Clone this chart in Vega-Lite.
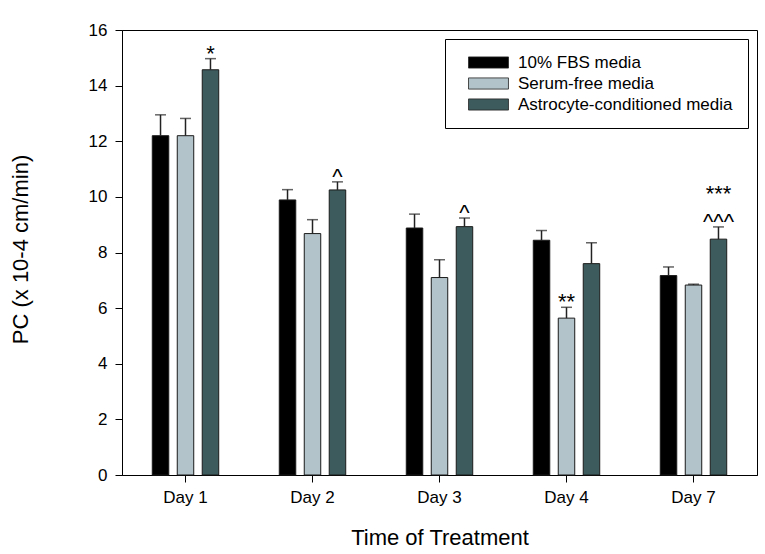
{
  "$schema": "https://vega.github.io/schema/vega-lite/v6.json",
  "width": 635,
  "height": 445,
  "autosize": {"type": "none"},
  "padding": {"left": 122, "top": 30, "right": 8, "bottom": 79},
  "background": "white",
  "config": {
    "font": "Liberation Sans",
    "view": {"stroke": "#000", "strokeWidth": 1},
    "axis": {
      "domainColor": "#000", "domainWidth": 1, "tickColor": "#000", "tickSize": 7, "tickWidth": 1,
      "labelColor": "#000", "labelFontSize": 17, "titleColor": "#000", "titleFontSize": 22, "titleFontWeight": "normal", "grid": false
    },
    "legend": {
      "orient": "none", "legendX": 323, "legendY": 9, "padding": 15, "strokeColor": "#000", "strokeWidth": 1,
      "fillColor": "white", "symbolType": "M-3.33,-0.93H3.33V0.93H-3.33Z", "symbolSize": 144, "symbolStrokeColor": "#222",
      "symbolStrokeWidth": 0.8, "symbolOpacity": 1, "labelFontSize": 17, "labelColor": "#000", "labelOffset": 21,
      "labelLimit": 400, "symbolOffset": 20, "rowPadding": 3, "title": null
    }
  },
  "data": {
    "values": [
      {"day": "Day 1", "media": "10% FBS media", "value": 12.2, "err": 12.95, "note": null, "note2": null},
      {"day": "Day 1", "media": "Serum-free media", "value": 12.2, "err": 12.82, "note": null, "note2": null},
      {"day": "Day 1", "media": "Astrocyte-conditioned media", "value": 14.57, "err": 14.97, "note": "*", "note2": null},
      {"day": "Day 2", "media": "10% FBS media", "value": 9.89, "err": 10.26, "note": null, "note2": null},
      {"day": "Day 2", "media": "Serum-free media", "value": 8.68, "err": 9.18, "note": null, "note2": null},
      {"day": "Day 2", "media": "Astrocyte-conditioned media", "value": 10.25, "err": 10.54, "note": "^", "note2": null},
      {"day": "Day 3", "media": "10% FBS media", "value": 8.88, "err": 9.38, "note": null, "note2": null},
      {"day": "Day 3", "media": "Serum-free media", "value": 7.1, "err": 7.74, "note": null, "note2": null},
      {"day": "Day 3", "media": "Astrocyte-conditioned media", "value": 8.93, "err": 9.24, "note": "^", "note2": null},
      {"day": "Day 4", "media": "10% FBS media", "value": 8.44, "err": 8.79, "note": null, "note2": null},
      {"day": "Day 4", "media": "Serum-free media", "value": 5.64, "err": 6.03, "note": "**", "note2": null},
      {"day": "Day 4", "media": "Astrocyte-conditioned media", "value": 7.6, "err": 8.35, "note": null, "note2": null},
      {"day": "Day 7", "media": "10% FBS media", "value": 7.17, "err": 7.48, "note": null, "note2": null},
      {"day": "Day 7", "media": "Serum-free media", "value": 6.83, "err": 6.86, "note": null, "note2": null},
      {"day": "Day 7", "media": "Astrocyte-conditioned media", "value": 8.48, "err": 8.92, "note": "^^^", "note2": "***"}
    ]
  },
  "encoding": {
    "x": {
      "field": "day", "type": "nominal", "sort": ["Day 1", "Day 2", "Day 3", "Day 4", "Day 7"],
      "scale": {"paddingInner": 0.41, "paddingOuter": 0.205},
      "axis": {"labelAngle": 0, "labelPadding": 7, "title": "Time of Treatment", "titleY": 69, "titleBaseline": "alphabetic", "titleAnchor": "middle"}
    },
    "xOffset": {
      "field": "media", "type": "nominal",
      "sort": ["10% FBS media", "Serum-free media", "Astrocyte-conditioned media"],
      "scale": {"paddingInner": 0.34, "paddingOuter": 0.17}
    }
  },
  "layer": [
    {
      "mark": {"type": "bar", "stroke": "#1a1a1a", "strokeWidth": 1},
      "encoding": {
        "y": {
          "field": "value", "type": "quantitative", "scale": {"domain": [0, 16], "nice": false, "zero": true},
          "axis": {"values": [0, 2, 4, 6, 8, 10, 12, 14, 16], "labelPadding": 8, "title": "PC (x 10-4 cm/min)",
                   "titleAngle": -90, "titleX": -95, "titleY": 219, "titleAlign": "center", "titleBaseline": "alphabetic"}
        },
        "color": {
          "field": "media", "type": "nominal",
          "sort": ["10% FBS media", "Serum-free media", "Astrocyte-conditioned media"],
          "scale": {"domain": ["10% FBS media", "Serum-free media", "Astrocyte-conditioned media"], "range": ["#000000", "#b3c3ca", "#3d5b5d"]},
          "legend": {"title": null}
        }
      }
    },
    {
      "mark": {"type": "rule", "color": "#222", "strokeWidth": 1.5},
      "encoding": {
        "y": {"field": "value", "type": "quantitative"},
        "y2": {"field": "err"}
      }
    },
    {
      "mark": {"type": "tick", "color": "#222", "size": 11, "thickness": 1.5},
      "encoding": {
        "y": {"field": "err", "type": "quantitative"}
      }
    },
    {
      "transform": [{"filter": "datum.note != null"}],
      "mark": {"type": "text", "fontSize": 22, "color": "#000", "baseline": "bottom", "align": "center", "dy": 7},
      "encoding": {
        "y": {"field": "err", "type": "quantitative"},
        "text": {"field": "note"}
      }
    },
    {
      "transform": [{"filter": "datum.note2 != null"}],
      "mark": {"type": "text", "fontSize": 22, "color": "#000", "baseline": "bottom", "align": "center", "dy": -21},
      "encoding": {
        "y": {"field": "err", "type": "quantitative"},
        "text": {"field": "note2"}
      }
    }
  ]
}
